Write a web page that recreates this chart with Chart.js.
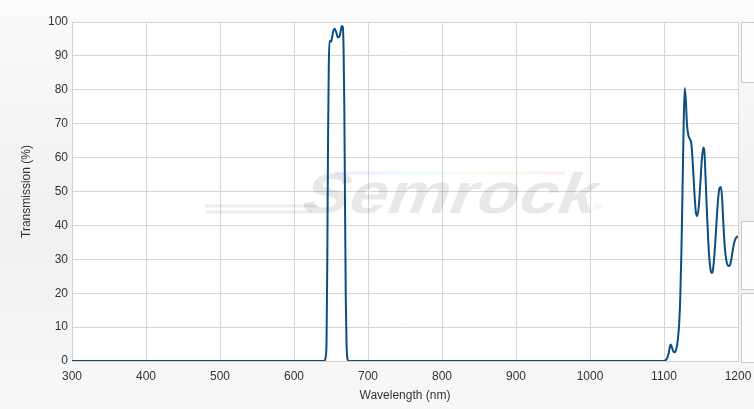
<!DOCTYPE html>
<html>
<head>
<meta charset="utf-8">
<script src="https://cdn.jsdelivr.net/npm/chart.js@4.4.1/dist/chart.umd.min.js"></script>
<style>
    html, body { margin: 0; padding: 0; }
    body {
        width: 754px; height: 409px; overflow: hidden; position: relative;
        background: linear-gradient(to bottom, #fbfbfb 0%, #f0f0f0 55%, #f8f8f8 100%);
    }
    #chart { position: absolute; left: 0; top: 0; }
    .side-box {
        position: absolute; left: 741px; width: 30px;
        border: 1px solid #c9c9c9; background: #fdfdfd;
    }
</style>
</head>
<body>
<canvas id="chart" width="754" height="409"></canvas>
<div class="side-box" style="top:22px;height:59px;"></div>
<div class="side-box" style="top:221px;height:67px;"></div>
<div class="side-box" style="top:293px;height:68px;"></div>
<script>
// Wavelength (nm) and transmission (%)
const wavelengths = [
    300, 640, 642, 643, 644, 645, 646, 647, 648, 650, 651.5, 653, 655, 657, 659, 661, 663, 664.5,
    666, 667, 668, 669, 670, 671, 672, 674,
    1100, 1103, 1106, 1108, 1109, 1110.5, 1112.5, 1114.5, 1116.5, 1118.5, 1120.5, 1122, 1123.5,
    1125, 1126.5, 1128, 1129.5, 1131, 1133, 1135, 1137, 1139, 1141, 1143, 1145, 1147, 1149,
    1151, 1153, 1154.5, 1156, 1158, 1160, 1162, 1164, 1165.5, 1167, 1169, 1171, 1173, 1175,
    1177, 1178.5, 1180, 1182, 1184, 1186, 1188, 1189.5, 1191, 1193, 1195, 1197, 1198.5, 1200
];
const transmission = [
    0, 0, 0.4, 1.5, 6, 30, 65, 87, 94.5, 94.2, 95.5, 97.3, 98, 97, 95.6, 95.5, 97.2, 98.8,
    98.5, 92, 75, 45, 18, 5, 1, 0,
    0, 0.4, 2, 4.3, 4.9, 4.2, 2.9, 2.6, 3.4, 6, 11, 19, 32,
    50, 69, 80.5, 77, 70, 66.5, 65.5, 64, 58, 50, 44, 42.8, 45.5, 52,
    59, 63, 62, 55, 44, 34.5, 28.5, 26, 26.2, 28.5, 34, 41, 47.5, 51,
    51.3, 48, 41.5, 34, 30, 28.3, 28, 28.5, 30, 32.8, 35, 36.2, 36.6, 36.8
];
const xTicks = [300, 400, 500, 600, 700, 800, 900, 1000, 1100, 1200];
const yTicks = [0, 10, 20, 30, 40, 50, 60, 70, 80, 90, 100];

const points = wavelengths.map((w, i) => ({ x: w, y: transmission[i] }));

// white plot area + faint logo watermark behind the curve
const backdrop = {
    id: 'backdrop',
    beforeDraw(chart) {
        const { ctx, chartArea: a } = chart;
        ctx.save();
        ctx.fillStyle = '#ffffff';
        ctx.fillRect(a.left, a.top, a.right - a.left, a.bottom - a.top);
        ctx.restore();
    },
    beforeDatasetsDraw(chart) {
        const ctx = chart.ctx;
        ctx.save();
        // swoosh lines
        ctx.strokeStyle = 'rgba(0,0,0,0.07)';
        ctx.lineWidth = 3;
        ctx.beginPath();
        ctx.moveTo(205, 206); ctx.lineTo(318, 206);
        ctx.moveTo(205, 212); ctx.lineTo(312, 212);
        ctx.stroke();
        // rainbow stroke
        const g = ctx.createLinearGradient(335, 0, 565, 0);
        g.addColorStop(0, 'rgba(150,150,255,0.18)');
        g.addColorStop(0.35, 'rgba(150,230,255,0.18)');
        g.addColorStop(0.6, 'rgba(200,255,150,0.2)');
        g.addColorStop(1, 'rgba(255,160,160,0.2)');
        ctx.strokeStyle = g;
        ctx.lineWidth = 3;
        ctx.beginPath();
        ctx.moveTo(335, 173); ctx.lineTo(565, 173);
        ctx.stroke();
        // lettering
        ctx.translate(298, 213);
        ctx.transform(1.22, 0, -0.38, 1, 0, 0);
        ctx.font = 'bold 57px "Liberation Sans", Arial, sans-serif';
        ctx.fillStyle = 'rgba(0,0,0,0.09)';
        ctx.fillText('Semrock', 0, 0);
        ctx.font = '10px "Liberation Sans", Arial, sans-serif';
        ctx.fillText('\u00AE', 240, -2);
        ctx.restore();
    }
};

const tickFont = { family: '"Liberation Sans", Arial, sans-serif', size: 12 };

new Chart(document.getElementById('chart'), {
    type: 'line',
    data: {
        datasets: [{
            label: 'Transmission',
            data: points,
            borderColor: '#0c4e80',
            borderWidth: 2,
            pointRadius: 0,
            fill: false,
            cubicInterpolationMode: 'monotone'
        }]
    },
    options: {
        responsive: false,
        animation: false,
        events: [],
        layout: { padding: { left: 0, right: 16, top: 22, bottom: 0 } },
        plugins: {
            legend: { display: false },
            tooltip: { enabled: false }
        },
        scales: {
            x: {
                type: 'linear',
                min: 300,
                max: 1200,
                afterBuildTicks: (s) => { s.ticks = xTicks.map(v => ({ value: v })); },
                afterFit: (s) => { s.height = 48; s.paddingRight = 0; s.paddingLeft = 0; },
                grid: { color: '#d6d6d6', drawTicks: false },
                border: { color: '#d0d0d0' },
                ticks: {
                    color: '#333333', font: tickFont, padding: 8, maxRotation: 0,
                    callback: (v) => String(v)
                },
                title: {
                    display: true,
                    text: 'Wavelength (nm)',
                    color: '#333333',
                    font: tickFont,
                    padding: { top: 0, bottom: 6 }
                }
            },
            y: {
                min: 0,
                max: 100,
                afterBuildTicks: (s) => { s.ticks = yTicks.map(v => ({ value: v })); },
                afterFit: (s) => { s.width = 72; s.paddingTop = 0; s.paddingBottom = 0; },
                grid: { color: '#d6d6d6', drawTicks: false },
                border: { color: '#d0d0d0' },
                ticks: { color: '#333333', font: tickFont, padding: 4 },
                title: {
                    display: true,
                    text: 'Transmission (%)',
                    color: '#333333',
                    font: tickFont,
                    padding: { top: 19, bottom: 0 }
                }
            }
        }
    },
    plugins: [backdrop]
});
</script>
</body>
</html>
